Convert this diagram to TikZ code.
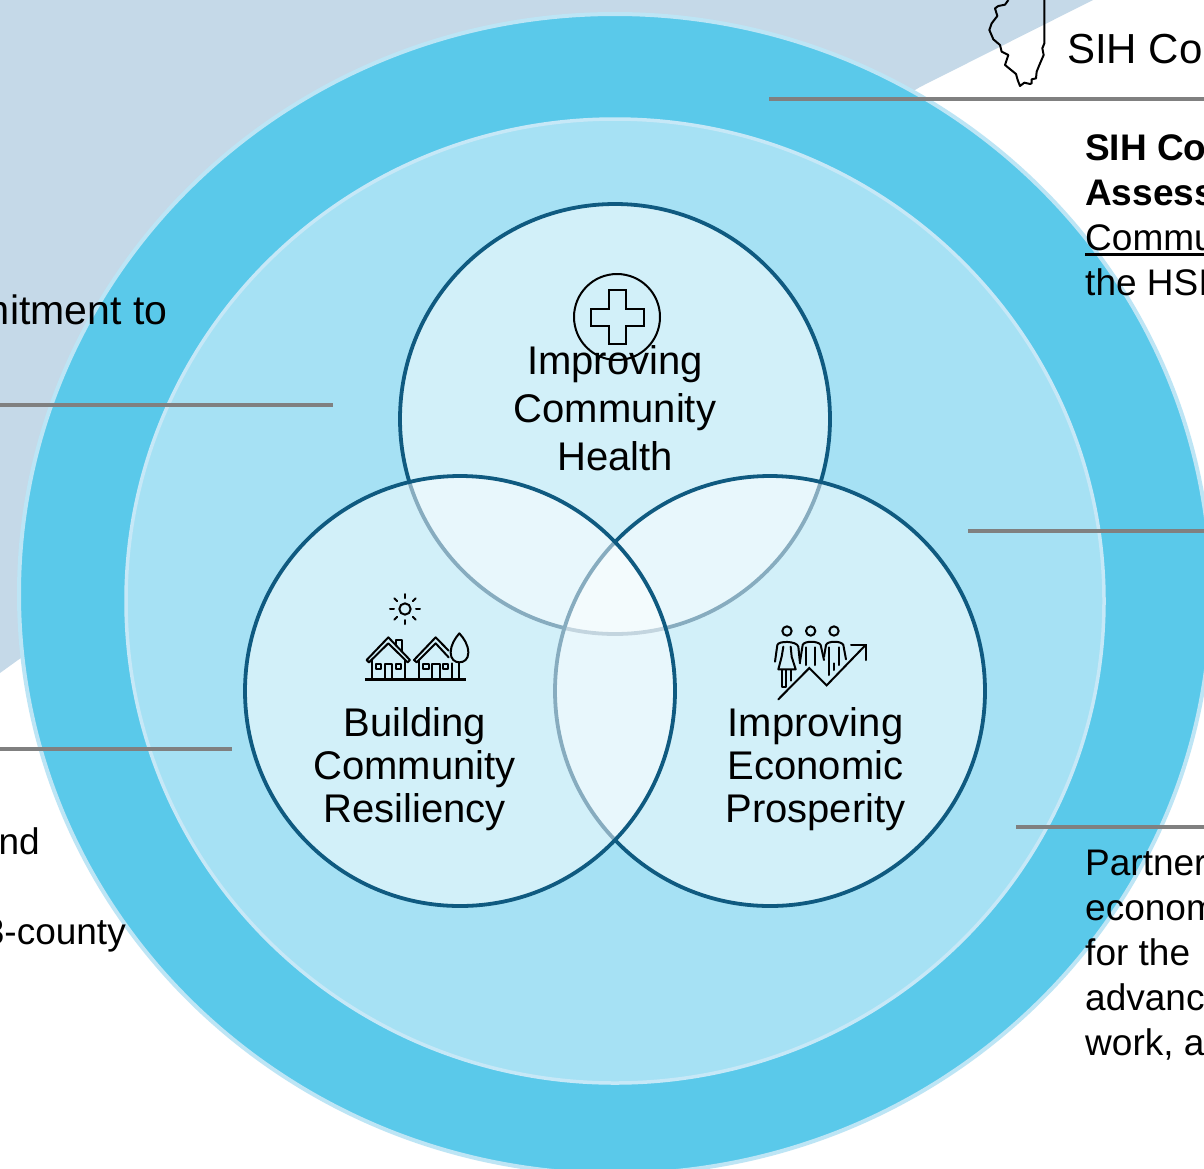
\documentclass[tikz,border=0pt]{standalone}
\usepackage{fontspec}
\setmainfont{Liberation Sans}
\definecolor{bgshape}{HTML}{C5D9E8}
\definecolor{ringfill}{HTML}{5AC9EA}
\definecolor{ringedge}{HTML}{BDE5F5}
\definecolor{innerfill}{HTML}{A6E1F4}
\definecolor{inneredge}{HTML}{C6E8F7}
\definecolor{venn}{HTML}{0F5A80}
\definecolor{rulegray}{HTML}{808080}
\tikzset{
  vennc/.style={draw=venn,line width=3.8pt,fill=white,fill opacity=.5},
  grayrule/.style={draw=rulegray,line width=4.4pt},
  vlabel/.style={align=center,inner sep=0pt},
  sidetext/.style={inner sep=0pt,align=left},
  icon/.style={draw=black,line width=2pt,line join=round,line cap=round},
}
\begin{document}
\begin{tikzpicture}[x=1pt,y=-1pt]
\path[use as bounding box] (0,0) rectangle (1204,1168);
\clip (0,0) rectangle (1204,1168);
\fill[white] (0,0) rectangle (1204,1168);
% background
\fill[bgshape] (0,0) -- (1093,0) -- (920,87) -- (500,340) -- (18,660) -- (0,673) -- cycle;
% Illinois
\begin{scope}[shift={(980,0)},x=0.3333pt,y=-0.3333pt]
\draw[black,line width=2pt,line join=round] (193,0) -- (193,130) -- (187,145) -- (191,165) -- (178,195) -- (170,215) -- (168,235) -- (155,238) -- (155,250) -- (150,252) -- (133,248) -- (120,258) -- (113,240) -- (108,222) -- (75,195) -- (85,165) -- (65,155) -- (60,135) -- (40,118) -- (28,90) -- (35,70) -- (52,48) -- (45,25) -- (55,18) -- (75,14) -- (85,0);
\end{scope}
% rings
\draw[fill=ringfill,draw=ringedge,line width=4pt] (615,594) ellipse [x radius=596,y radius=580];
\draw[fill=innerfill,draw=inneredge,line width=3.5pt] (615,601) ellipse [x radius=489,y radius=482];
% venn
\path[vennc] (615,419) circle [radius=215];
\path[vennc] (770,691) circle [radius=215];
\path[vennc] (460,691) circle [radius=215];
% rules
\coordinate (r1a) at (769,99);   \coordinate (r1b) at (1204,99);
\coordinate (r2a) at (0,405);    \coordinate (r2b) at (333,405);
\coordinate (r3a) at (968,531);  \coordinate (r3b) at (1204,531);
\coordinate (r4a) at (0,749);    \coordinate (r4b) at (232,749);
\coordinate (r5a) at (1016,827); \coordinate (r5b) at (1204,827);
\draw[grayrule] (r1a) -- (r1b);
\draw[grayrule] (r2a) -- (r2b);
\draw[grayrule] (r3a) -- (r3b);
\draw[grayrule] (r4a) -- (r4b);
\draw[grayrule] (r5a) -- (r5b);
% health icon
\draw[black,line width=2pt] (617,317) circle [radius=43];
\draw[icon,line join=miter] (609,290) -- (626,290) -- (626,309) -- (644,309) -- (644,326) -- (626,326) -- (626,344) -- (609,344) -- (609,326) -- (591,326) -- (591,309) -- (609,309) -- cycle;
% house icon
\begin{scope}[shift={(340,580)},x=0.3333pt,y=-0.3333pt]
\draw[icon] (195,87) circle [radius=17];
\foreach \a in {0,45,...,315} {\draw[icon] (195,87) ++(\a:33) -- ++(\a:12);}
\draw[icon,line width=2.4pt,line cap=butt] (75,298) -- (378,298);
\draw[icon] (80,240) -- (145,172) -- (210,240) -- (203,247) -- (145,190) -- (87,247) -- cycle;
\draw[icon] (168,196) -- (168,181) -- (185,181) -- (185,212);
\draw[icon] (95,240) -- (95,298) (195,240) -- (195,298);
\draw[icon] (134,298) -- (134,252) -- (157,252) -- (157,298);
\draw[icon] (107,252) rectangle (123,266) (167,252) rectangle (183,266);
\draw[icon] (326,212) -- (287,172) -- (222,240) -- (230,247) -- (287,190) -- (326,232);
\draw[icon] (237,240) -- (237,298);
\draw[icon] (276,298) -- (276,252) -- (299,252) -- (299,298);
\draw[icon] (250,252) rectangle (266,266) (309,252) rectangle (325,266);
\draw[icon] (337,250) -- (337,298);
\draw[icon] (358,160) .. controls (345,175) and (332,195) .. (332,218) .. controls (332,238) and (345,247) .. (358,247) .. controls (372,247) and (385,238) .. (385,218) .. controls (385,195) and (372,175) .. (358,160) -- cycle;
\draw[icon] (358,247) -- (358,298);
\end{scope}
% people icon
\begin{scope}[shift={(750,610)},x=0.3333pt,y=-0.3333pt]
\draw[icon] (111,63) circle [radius=14] (182,63) circle [radius=14] (252,63) circle [radius=14];
\draw[icon] (75,155) -- (82,105) .. controls (85,92) and (140,92) .. (145,110) -- (150,160);
\draw[icon] (100,110) -- (95,140) -- (85,178) -- (137,178) -- (125,140) -- (122,110);
\draw[icon] (97,180) -- (97,230) -- (107,230) -- (107,180) (122,180) -- (122,212);
\draw[icon] (150,155) -- (158,105) .. controls (162,92) and (205,92) .. (212,105) -- (222,150);
\draw[icon] (168,112) -- (168,165) (195,112) -- (195,165);
\draw[icon] (222,140) -- (228,105) .. controls (232,92) and (275,92) .. (280,105) -- (288,148);
\draw[icon] (238,112) -- (238,195) (267,112) -- (267,165) (252,160) -- (252,180);
\draw[icon,line join=miter] (85,268) -- (178,174) -- (230,226) -- (345,107);
\draw[icon,line join=miter] (303,104) -- (348,104) -- (348,150);
\end{scope}
% venn labels
\node[vlabel,font=\fontsize{40}{48}\selectfont] (health) at (615,408) {Improving\\Community\\Health};
\node[vlabel,font=\fontsize{40}{43}\selectfont] (resil) at (414.5,769.5) {Building\\Community\\Resiliency};
\node[vlabel,font=\fontsize{40}{43}\selectfont] (econ) at (815.5,769.5) {Improving\\Economic\\Prosperity};
% side texts
\node[inner sep=0pt,anchor=base west,font=\fontsize{42}{48}\selectfont] (sihtitle) at (1067,63) {SIH Co};
\node[inner sep=0pt,anchor=base east,font=\fontsize{41}{48}\selectfont] (commit) at (167.5,324) {mitment to};
\node[inner sep=0pt,anchor=base east,font=\fontsize{37}{45}\selectfont] (nd) at (40,854) {nd};
\node[inner sep=0pt,anchor=base east,font=\fontsize{37}{45}\selectfont] (county) at (126,944) {3-county};
\node[sidetext,anchor=base west,font=\fontsize{37}{45}\selectfont] (sa) at (1085,160) {\textbf{SIH Co}};
\node[sidetext,anchor=base west,font=\fontsize{37}{45}\selectfont] (sb) at (1085,205) {\textbf{Assess}};
\node[sidetext,anchor=base west,font=\fontsize{37}{45}\selectfont] (sc) at (1085,250) {Commu};
\node[sidetext,anchor=base west,font=\fontsize{37}{45}\selectfont] (sd) at (1085,295) {the HSI};
\coordinate (ula) at (1085,254.5); \coordinate (ulb) at (1204,254.5);
\draw[black,line width=3pt] (ula) -- (ulb);
\node[sidetext,anchor=base west,font=\fontsize{37}{45}\selectfont] (pa) at (1085,875) {Partner};
\node[sidetext,anchor=base west,font=\fontsize{37}{45}\selectfont] (pb) at (1085,920) {econom};
\node[sidetext,anchor=base west,font=\fontsize{37}{45}\selectfont] (pc) at (1085,965) {for the};
\node[sidetext,anchor=base west,font=\fontsize{37}{45}\selectfont] (pd) at (1085,1010) {advanc};
\node[sidetext,anchor=base west,font=\fontsize{37}{45}\selectfont] (pe) at (1085,1055) {work, a};
\end{tikzpicture}
\end{document}
